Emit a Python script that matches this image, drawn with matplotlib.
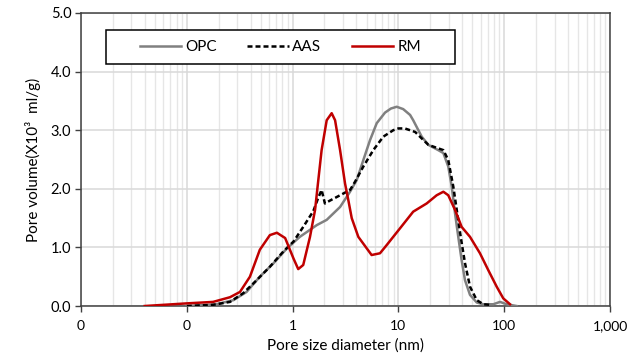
import matplotlib
matplotlib.use('Agg')
import matplotlib.pyplot as plt
from matplotlib.patches import Rectangle
from matplotlib.ticker import FixedLocator, NullFormatter

# pore size distribution (x in nm, y in X10^3 ml/g)
opc_x = [0.1, 0.19, 0.276, 0.367, 0.49, 0.66, 0.88, 1.17, 1.46, 1.69, 2.10, 2.81, 3.49, 4.04,
         4.66, 5.39, 6.24, 7.47, 8.5, 9.64, 11.1, 12.9, 13.8, 16.6, 19.2, 23.8, 26.6, 29.6,
         31.9, 34.3, 36.8, 39.6, 42.6, 47.5, 55.0, 63.5, 78.9, 91.2, 105.6, 131]
opc_y = [0.0, 0.03, 0.10, 0.24, 0.50, 0.73, 0.98, 1.18, 1.30, 1.38, 1.47, 1.69, 1.95, 2.15,
         2.49, 2.83, 3.12, 3.30, 3.37, 3.40, 3.36, 3.26, 3.17, 2.89, 2.75, 2.66, 2.61, 2.38,
         2.04, 1.58, 1.18, 0.78, 0.44, 0.19, 0.06, 0.03, 0.03, 0.07, 0.03, 0.0]

aas_x = [0.1, 0.177, 0.256, 0.342, 0.457, 0.61, 0.817, 1.02, 1.26, 1.57, 1.75, 1.88, 2.02,
         2.26, 2.81, 3.49, 3.89, 4.66, 5.79, 7.2, 8.95, 10.0, 11.5, 14.4, 16.6, 19.2, 23.8,
         26.6, 29.6, 33.0, 35.6, 38.8, 42.6, 47.5, 55.0, 63.5, 73.4]
aas_y = [0.0, 0.02, 0.07, 0.22, 0.44, 0.67, 0.93, 1.10, 1.35, 1.62, 1.85, 1.98, 1.75,
         1.80, 1.89, 1.98, 2.12, 2.38, 2.66, 2.89, 3.00, 3.03, 3.03, 2.97, 2.86, 2.75, 2.69,
         2.66, 2.49, 2.04, 1.64, 1.18, 0.73, 0.33, 0.10, 0.03, 0.02]

rm_x = [0.040, 0.1, 0.177, 0.256, 0.318, 0.395, 0.49, 0.61, 0.71, 0.85, 1.02, 1.13, 1.26,
        1.46, 1.63, 1.75, 1.88, 2.10, 2.34, 2.52, 2.81, 3.13, 3.36, 3.62, 4.18, 5.58, 6.7,
        7.75, 10.4, 13.8, 18.5, 23.0, 26.6, 29.6, 34.3, 39.6, 47.5, 59.0, 70.8, 84.9, 98.0,
        113.5]
rm_y = [0.0, 0.045, 0.07, 0.15, 0.24, 0.50, 0.96, 1.21, 1.25, 1.16, 0.81, 0.63, 0.70,
        1.18, 1.64, 2.15, 2.66, 3.17, 3.29, 3.17, 2.66, 2.09, 1.81, 1.50, 1.18, 0.87, 0.90,
        1.04, 1.33, 1.61, 1.75, 1.89, 1.95, 1.89, 1.64, 1.35, 1.18, 0.90, 0.61, 0.33, 0.13,
        0.03]

series_names = ['OPC', 'AAS', 'RM']
x_ticks = [0.01, 0.1, 1, 10, 100, 1000]
x_tick_labels = ['0', '0', '1', '10', '100', '1,000']  # excel "#,##0" format
y_ticks = [0.0, 1.0, 2.0, 3.0, 4.0, 5.0]

plt.rcParams['font.family'] = ['Lato', 'DejaVu Sans']

fig = plt.figure(figsize=(6.27, 3.63), dpi=100)
ax = fig.add_axes([0.1292, 0.157, 0.8437, 0.8072])

line_kw = dict(lw=1.8, solid_joinstyle='round', dash_joinstyle='round')
ax.plot(opc_x, opc_y, color='#808080', label=series_names[0], zorder=3, **line_kw)
ax.plot(aas_x, aas_y, color='black', dashes=(2.0, 1.2), label=series_names[1], zorder=4, **line_kw)
ax.plot(rm_x, rm_y, color='#c00000', label=series_names[2], zorder=5, **line_kw)

ax.set_xscale('log')
ax.set_xlim(0.01, 1000)
ax.set_ylim(0, 5)

# ticks
ax.xaxis.set_major_locator(FixedLocator(x_ticks))
ax.set_xticklabels(x_tick_labels)
minor = [m * d for d in x_ticks[:-1] for m in range(2, 10)]
ax.xaxis.set_minor_locator(FixedLocator(minor))
ax.xaxis.set_minor_formatter(NullFormatter())
ax.set_yticks(y_ticks)
ax.set_yticklabels([f'{v:.1f}' for v in y_ticks])
ax.tick_params(axis='both', which='major', direction='out', length=4, width=1,
               color='#404040', labelsize=10.5, labelcolor='black', pad=3)
ax.tick_params(axis='x', which='major', labelsize=10, pad=6)
ax.tick_params(axis='x', which='minor', length=0)

# grid
ax.grid(True, which='major', color='#d9d9d9', lw=1.1, zorder=0)
ax.grid(True, which='minor', axis='x', color='#e6e6e6', lw=1.0, zorder=0)
ax.set_axisbelow(True)

for side in ['left', 'right', 'top', 'bottom']:
    ax.spines[side].set_color('#404040')
    ax.spines[side].set_linewidth(1.1)

ax.set_xlabel('Pore size diameter (nm)', fontsize=11, labelpad=5)
ax.set_ylabel('Pore volume(X10³  ml/g)', fontsize=11, labelpad=7)

# legend box drawn separately so entries sit centred like in excel
box = Rectangle((0.047, 0.826), 0.66, 0.116, transform=ax.transAxes, facecolor='white',
                edgecolor='black', lw=1.1, zorder=6)
ax.add_patch(box)
leg = ax.legend(loc='center', bbox_to_anchor=(0.377, 0.884), ncol=3, frameon=False,
                fontsize=11, handlelength=2.7, handletextpad=0.25, columnspacing=2.0)
leg.set_zorder(7)

fig.savefig('out.png', dpi=100)
